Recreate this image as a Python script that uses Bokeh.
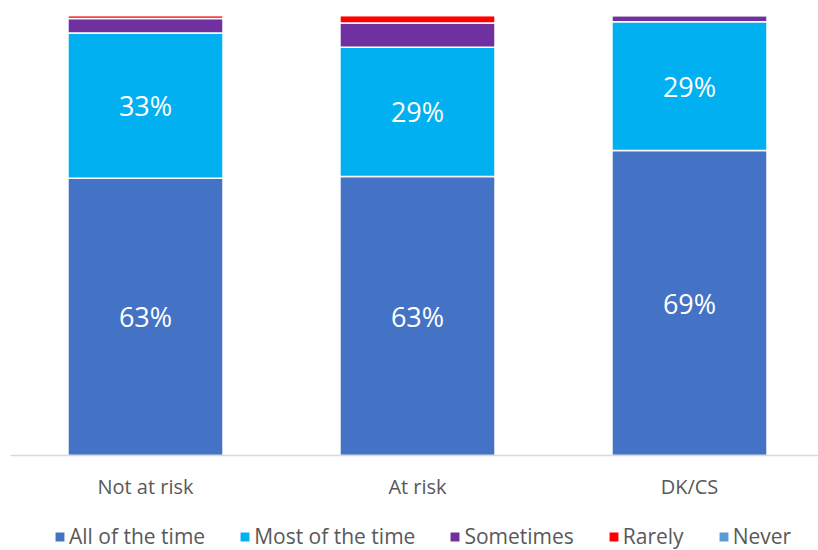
from bokeh.plotting import figure
from bokeh.models import Range1d, ColumnDataSource, LabelSet, Span
from bokeh.core.properties import value
from bokeh.embed import file_html
from bokeh.resources import INLINE

categories = ["Not at risk", "At risk", "DK/CS"]
series = ["All of the time", "Most of the time", "Sometimes", "Rarely", "Never"]
all_of_the_time = [63.0, 63.4, 69.3]
most_of_the_time = [33.0, 29.4, 29.3]
sometimes = [3.3, 5.5, 1.4]
rarely = [0.7, 1.7, 0.0]
never = [0.0, 0.0, 0.0]
colors = ["#4472C4", "#00B0F0", "#7030A0", "#FF0000", "#5B9BD5"]

FONT = "Open Sans"
GRAY = "#595959"

xs = list(range(len(categories)))
data = {"x": xs}
for name, vals in zip(series, [all_of_the_time, most_of_the_time, sometimes, rarely, never]):
    data[name] = vals
source = ColumnDataSource(data)

p = figure(width=818, height=550, output_backend="svg", toolbar_location=None,
           x_range=Range1d(-0.4963, 2.4743), y_range=Range1d(-21.59, 102.27),
           x_axis_location=None, y_axis_location=None,
           min_border_left=10, min_border_right=0,
           min_border_top=5, min_border_bottom=0, outline_line_color=None)
p.title.visible = False
p.xgrid.visible = False
p.ygrid.visible = False

p.vbar_stack(series, x="x", width=0.57, color=colors, line_color="white",
             line_width=1.5, source=source, legend_label=series)

# category axis line and labels
p.add_layout(Span(location=0, dimension="width", line_color="#D9D9D9", line_width=1.5))
cat_src = ColumnDataSource(dict(x=xs, y=[0] * len(xs), t=categories))
p.add_layout(LabelSet(x="x", y="y", text="t", source=cat_src, y_offset=-31,
                      text_color=GRAY, text_font=value(FONT), text_font_size="20px",
                      text_align="center", text_baseline="middle"))

# data labels for first two series
lx, ly, lt = [], [], []
for i in xs:
    a = all_of_the_time[i]
    m = most_of_the_time[i]
    lx += [i, i]
    ly += [a / 2, a + m / 2]
    lt += [f"{round(a)}%", f"{round(m)}%"]
lab_src = ColumnDataSource(dict(x=lx, y=ly, t=lt))
p.add_layout(LabelSet(x="x", y="y", text="t", source=lab_src, text_color="white",
                      text_font=value(FONT), text_font_size="27px",
                      text_align="center", text_baseline="middle"))

lg = p.legend[0]
lg.orientation = "horizontal"
lg.location = (43, 0)
lg.border_line_color = None
lg.background_fill_alpha = 0
lg.padding = 0
lg.margin = 0
lg.spacing = 33
lg.glyph_width = 13
lg.glyph_height = 13
lg.label_standoff = 3
lg.label_text_font = FONT
lg.label_text_font_size = "21px"
lg.label_text_line_height = 1.0
lg.label_text_color = GRAY
lg.label_height = 18

open("out.html", "w").write(file_html(p, INLINE))
